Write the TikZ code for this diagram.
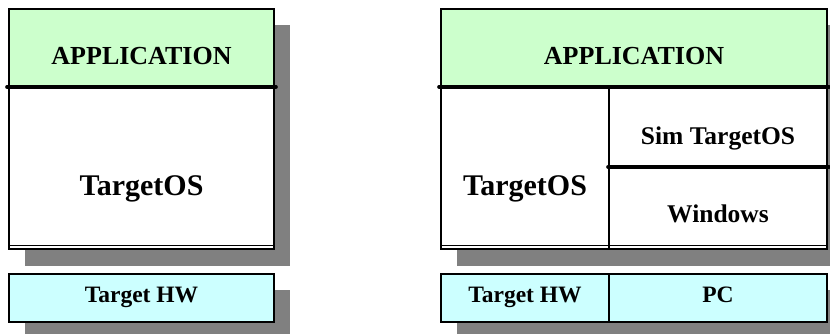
\documentclass[tikz,border=0pt]{standalone}
\usepackage{fontspec}
\setmainfont{Liberation Serif}
\usetikzlibrary{positioning, backgrounds}

\definecolor{appgreen}{HTML}{CCFFCC}
\definecolor{hwcyan}{HTML}{CCFFFF}
\definecolor{shadowgray}{HTML}{808080}

\begin{document}
\begin{tikzpicture}[x=1pt, y=-1pt, node distance=0pt,
  layer/.style={draw, line width=1.4pt, outer sep=0pt, inner sep=0pt, fill=white, text depth=0pt, font=\bfseries},
  appbox/.style={layer, fill=appgreen, minimum height=78pt, text height=32pt, font=\bfseries\fontsize{26}{26}\selectfont},
  osbox/.style={layer, minimum height=162pt, text height=54pt, font=\bfseries\fontsize{30}{30}\selectfont},
  simbox/.style={layer, minimum height=80pt, font=\bfseries\fontsize{25.5}{25.5}\selectfont},
  hwbox/.style={layer, fill=hwcyan, minimum height=48pt, text height=8pt, font=\bfseries\fontsize{23.5}{23.5}\selectfont},
  sepline/.style={line width=3.6pt, line cap=round},
  shadow/.style={fill=shadowgray}]
\useasboundingbox (0,0) rectangle (830,333);
% Target system
\node[appbox, minimum width=265pt] (appL) at (141.5,48) {APPLICATION};
\node[osbox, minimum width=265pt, below=of appL] (osL) {TargetOS};
\node[hwbox, minimum width=265pt, below=25pt of osL] (hwL) {Target HW};
% Simulated system
\node[appbox, minimum width=386pt, right=167pt of appL] (appR) {APPLICATION};
\node[osbox, minimum width=168pt, below right=0pt and 0pt of appR.south west] (osR) {TargetOS};
\node[simbox, minimum width=218pt, text height=34pt, below right=0pt and 0pt of osR.north east] (simR) {Sim TargetOS};
\node[simbox, minimum width=218pt, minimum height=82pt, text height=28pt, below=of simR] (winR) {Windows};
\node[hwbox, minimum width=168pt, below right=25pt and 0pt of osR.south west] (hwR) {Target HW};
\node[hwbox, minimum width=218pt, right=of hwR] (pcR) {PC};
% Separators
\draw[sepline] ([xshift=-2pt]appL.south west) -- ([xshift=2pt]appL.south east);
\draw[sepline] ([xshift=-2pt]appR.south west) -- ([xshift=2pt]appR.south east);
\draw[sepline] ([xshift=-1pt]simR.south west) -- ([xshift=2pt]simR.south east);
\draw[line width=1pt] ([yshift=4pt]osL.south west) -- ([yshift=4pt]osL.south east);
\draw[line width=1pt] ([yshift=4pt]osR.south west) -- ([yshift=4pt]winR.south east);
% Shadows
\begin{scope}[on background layer]
\fill[shadow] ([shift={(16pt,-16pt)}]appL.north west) rectangle ([shift={(16pt,-17pt)}]osL.south east);
\fill[shadow] ([shift={(16pt,-16pt)}]hwL.north west) rectangle ([shift={(16pt,-17pt)}]hwL.south east);
\fill[shadow] ([shift={(16pt,-16pt)}]appR.north west) rectangle ([shift={(16pt,-17pt)}]winR.south east);
\fill[shadow] ([shift={(16pt,-16pt)}]hwR.north west) rectangle ([shift={(16pt,-17pt)}]pcR.south east);
\end{scope}
\end{tikzpicture}
\end{document}
